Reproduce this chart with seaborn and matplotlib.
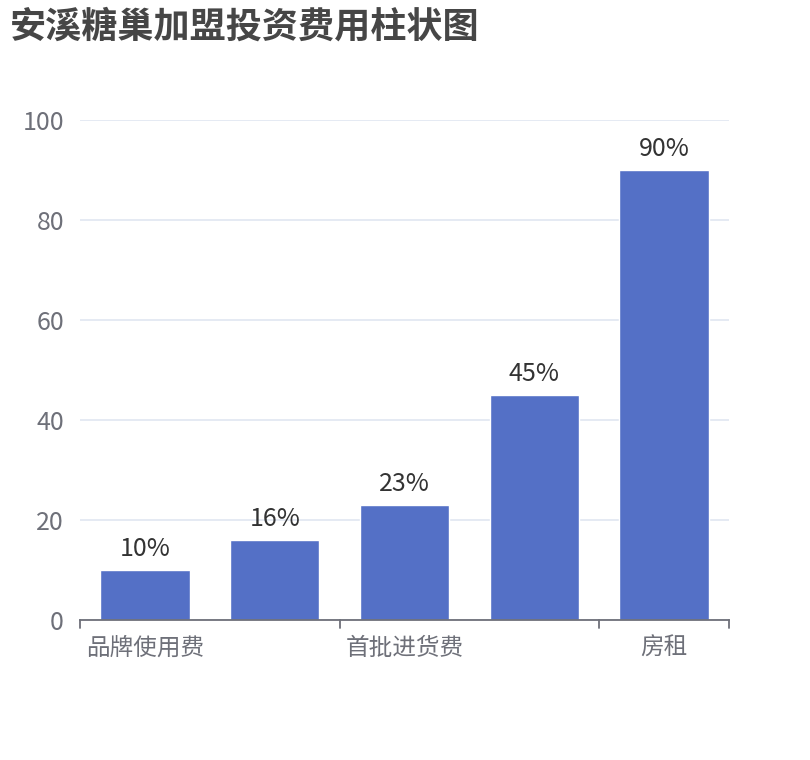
import matplotlib
matplotlib.use('Agg')
import matplotlib.pyplot as plt
import seaborn as sns
import pandas as pd

# Chart data
categories = ['品牌使用费', '装修费', '首批进货费', '设备费', '房租']
values = [10, 16, 23, 45, 90]
value_labels = ['10%', '16%', '23%', '45%', '90%']
shown_labels = ['品牌使用费', '', '首批进货费', '', '房租']
y_ticks = [0, 20, 40, 60, 80, 100]
title = '安溪糖巢加盟投资费用柱状图'

sns.set_style('white')
plt.rcParams['font.family'] = ['Noto Sans CJK SC', 'DejaVu Sans']

df = pd.DataFrame({'category': categories, 'value': values})

fig = plt.figure(figsize=(8.1, 7.6), dpi=100)
ax = fig.add_axes([80 / 810, 1 - 620 / 760, 649 / 810, 500 / 760])

sns.barplot(data=df, x='category', y='value', color='#5470c6', saturation=1,
            width=0.69, ax=ax)

for i, (v, lab) in enumerate(zip(values, value_labels)):
    ax.annotate(lab, (i, v), xytext=(0, 6), textcoords='offset points',
                ha='center', va='bottom', fontsize=18, color='#333333')

ax.set_xlim(-0.5, len(categories) - 0.5)
ax.set_ylim(0, 100)
ax.set_yticks(y_ticks)
ax.set_yticklabels([str(t) for t in y_ticks], fontsize=18, color='#6e7079')
ax.set_xticks(range(len(categories)))
ax.set_xticklabels(shown_labels, fontsize=17, color='#6e7079')
ax.tick_params(axis='x', length=0, pad=12)
ax.tick_params(axis='y', length=0, pad=11.5)

# category boundary ticks, every other one as in the original
for b in [-0.5, 1.5, 3.5, 4.5]:
    ax.plot([b, b], [0, -1.6], color='#6e7079', lw=1.3, clip_on=False)

ax.yaxis.grid(True, color='#e0e6f1', lw=1.2)
ax.set_axisbelow(True)
for s in ['top', 'right', 'left']:
    ax.spines[s].set_visible(False)
ax.spines['bottom'].set_color('#6e7079')
ax.spines['bottom'].set_linewidth(1.3)
ax.set_xlabel('')
ax.set_ylabel('')

fig.text(10 / 810, 1 - 27 / 760, title, fontsize=26, fontweight='bold',
         color='#464646', ha='left', va='center')

fig.savefig('out.png', dpi=100)
